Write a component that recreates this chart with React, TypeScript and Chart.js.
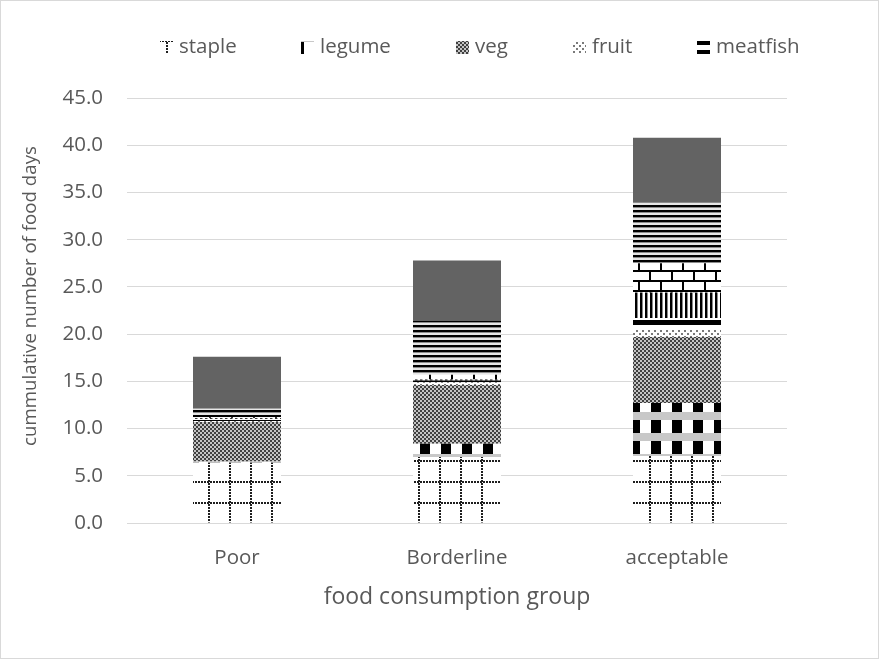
import React, { useEffect, useRef } from "react";
import { Chart, registerables } from "chart.js";
Chart.register(...registerables);

const categories = ["Poor", "Borderline", "acceptable"];
const staple = [6.4, 7.0, 7.1];
const legume = [0.1, 1.4, 5.6];
const veg = [4.2, 6.2, 7.0];
const fruit = [0.1, 0.3, 0.8];
const meatfish = [0.2, 0.2, 1.2];
const milk = [0.1, 0.1, 2.7];
const sugar = [0.1, 0.5, 3.1];
const oil = [0.9, 5.7, 6.4];
const condiments = [5.5, 6.4, 6.9];
const seriesNames = ["staple", "legume", "veg", "fruit", "meatfish", "milk", "sugar", "oil", "condiments"];
const legendNames = ["staple", "legume", "veg", "fruit", "meatfish"];
const yTicksMax = 45;
const yTickStep = 5;
const yTitle = "cummulative number of food days";
const xTitle = "food consumption group";

const FONT = "'Open Sans', sans-serif";
const TEXT = "#595959";

function tile(w: number, h: number, draw: (c: CanvasRenderingContext2D) => void): CanvasPattern {
  const cv = document.createElement("canvas");
  cv.width = w;
  cv.height = h;
  const c = cv.getContext("2d")!;
  draw(c);
  return c.createPattern(cv, "repeat")!;
}

function makePatterns(): (CanvasPattern | string)[] {
  const stapleP = tile(21, 21, (c) => {
    c.fillStyle = "#ffffff";
    c.fillRect(0, 0, 21, 21);
    c.fillStyle = "#1e1e1e";
    for (let x = 0; x < 21; x += 3) c.fillRect(x, 19, 2, 2);
    for (let y = 0; y < 21; y += 3) c.fillRect(19, y, 2, 2);
  });
  const legumeP = tile(21, 21, (c) => {
    c.fillStyle = "#ffffff";
    c.fillRect(0, 0, 21, 21);
    c.fillStyle = "#000000";
    c.fillRect(0, 0, 10, 13);
    for (let y = 13; y < 21; y += 2)
      for (let x = 0; x < 21; x += 2) {
        c.fillStyle = ((x + y) / 2) % 2 === 0 ? "#404040" : "#c8c8c8";
        c.fillRect(x, y, 2, 2);
      }
  });
  const vegP = tile(4, 4, (c) => {
    c.fillStyle = "#404040";
    c.fillRect(0, 0, 4, 4);
    c.fillStyle = "#c4c4c4";
    c.fillRect(0, 0, 2, 2);
    c.fillRect(2, 2, 2, 2);
  });
  const fruitP = tile(6, 6, (c) => {
    c.fillStyle = "#ffffff";
    c.fillRect(0, 0, 6, 6);
    c.fillStyle = "#7a7a7a";
    c.fillRect(0, 0, 2, 2);
    c.fillRect(3, 3, 2, 2);
  });
  const meatP = tile(1, 10, (c) => {
    c.fillStyle = "#ffffff";
    c.fillRect(0, 0, 1, 10);
    c.fillStyle = "#000000";
    c.fillRect(0, 0, 1, 5);
  });
  const milkP = tile(5, 1, (c) => {
    c.fillStyle = "#ffffff";
    c.fillRect(0, 0, 5, 1);
    c.fillStyle = "#000000";
    c.fillRect(0, 0, 2, 1);
    c.fillStyle = "#8a8a8a";
    c.fillRect(2, 0, 1, 1);
  });
  const sugarP = tile(22, 20, (c) => {
    c.fillStyle = "#ffffff";
    c.fillRect(0, 0, 22, 20);
    c.fillStyle = "#000000";
    c.fillRect(0, 0, 22, 2);
    c.fillRect(0, 10, 22, 2);
    c.fillRect(0, 2, 2, 8);
    c.fillRect(11, 12, 2, 8);
  });
  const oilP = tile(1, 5, (c) => {
    c.fillStyle = "#e6e6e6";
    c.fillRect(0, 0, 1, 5);
    c.fillStyle = "#000000";
    c.fillRect(0, 0, 1, 2);
    c.fillStyle = "#8c8c8c";
    c.fillRect(0, 2, 1, 1);
  });
  return [stapleP, legumeP, vegP, fruitP, meatP, milkP, sugarP, oilP, "#636363"];
}

export default function App() {
  const ref = useRef<HTMLCanvasElement>(null);
  useEffect(() => {
    document.body.style.margin = "0";
    const canvas = ref.current!;
    const pats = makePatterns();
    const values = [staple, legume, veg, fruit, meatfish, milk, sugar, oil, condiments];
    const iconX = [160, 301, 456, 573, 697];

    const deco = {
      id: "deco",
      beforeDraw(chart: any) {
        const c = chart.ctx;
        c.save();
        c.fillStyle = "#ffffff";
        c.fillRect(0, 0, chart.width, chart.height);
        c.restore();
      },
      afterDraw(chart: any) {
        const c = chart.ctx;
        c.save();
        c.strokeStyle = "#d9d9d9";
        c.lineWidth = 1;
        c.strokeRect(0.5, 0.5, chart.width - 2, chart.height - 2);
        // legend
        c.font = `20.5px ${FONT}`;
        c.textBaseline = "middle";
        c.textAlign = "left";
        legendNames.forEach((n, i) => {
          c.fillStyle = pats[i] as any;
          c.fillRect(iconX[i], 41, 13, 13);
          c.fillStyle = TEXT;
          c.fillText(n, iconX[i] + 19, 47);
        });
        // y title
        c.translate(31, 296);
        c.rotate(-Math.PI / 2);
        c.font = `18.7px ${FONT}`;
        c.textAlign = "center";
        c.fillStyle = TEXT;
        c.fillText(yTitle, 0, 0);
        c.restore();
      },
    };

    const chart = new Chart(canvas, {
      type: "bar",
      data: {
        labels: categories,
        datasets: seriesNames.map((n, i) => ({
          label: n,
          data: values[i],
          backgroundColor: pats[i] as any,
          borderWidth: 0,
          barPercentage: 0.4,
          categoryPercentage: 1,
        })),
      },
      options: {
        responsive: false,
        animation: false,
        layout: { padding: { top: 98, right: 93, left: 0, bottom: 0 } },
        plugins: { legend: { display: false }, tooltip: { enabled: false } },
        scales: {
          x: {
            stacked: true,
            grid: { display: false },
            border: { display: false },
            ticks: { color: TEXT, font: { family: FONT, size: 20.5 }, padding: 15 },
            title: {
              display: true,
              text: xTitle,
              color: TEXT,
              font: { family: FONT, size: 23 },
              padding: { top: 0, bottom: 49 },
            },
            afterFit: (s: any) => {
              s.height = 137;
            },
          },
          y: {
            stacked: true,
            min: 0,
            max: yTicksMax,
            ticks: {
              stepSize: yTickStep,
              callback: (v: any) => Number(v).toFixed(1),
              padding: 24,
              color: TEXT,
              font: { family: FONT, size: 20.5 },
            },
            grid: { color: "#d9d9d9", drawTicks: false },
            border: { display: false },
            afterFit: (s: any) => {
              s.width = 127;
            },
          },
        },
      },
      plugins: [deco],
    });
    return () => chart.destroy();
  }, []);
  return <canvas ref={ref} width={880} height={660} style={{ display: "block" }} />;
}
